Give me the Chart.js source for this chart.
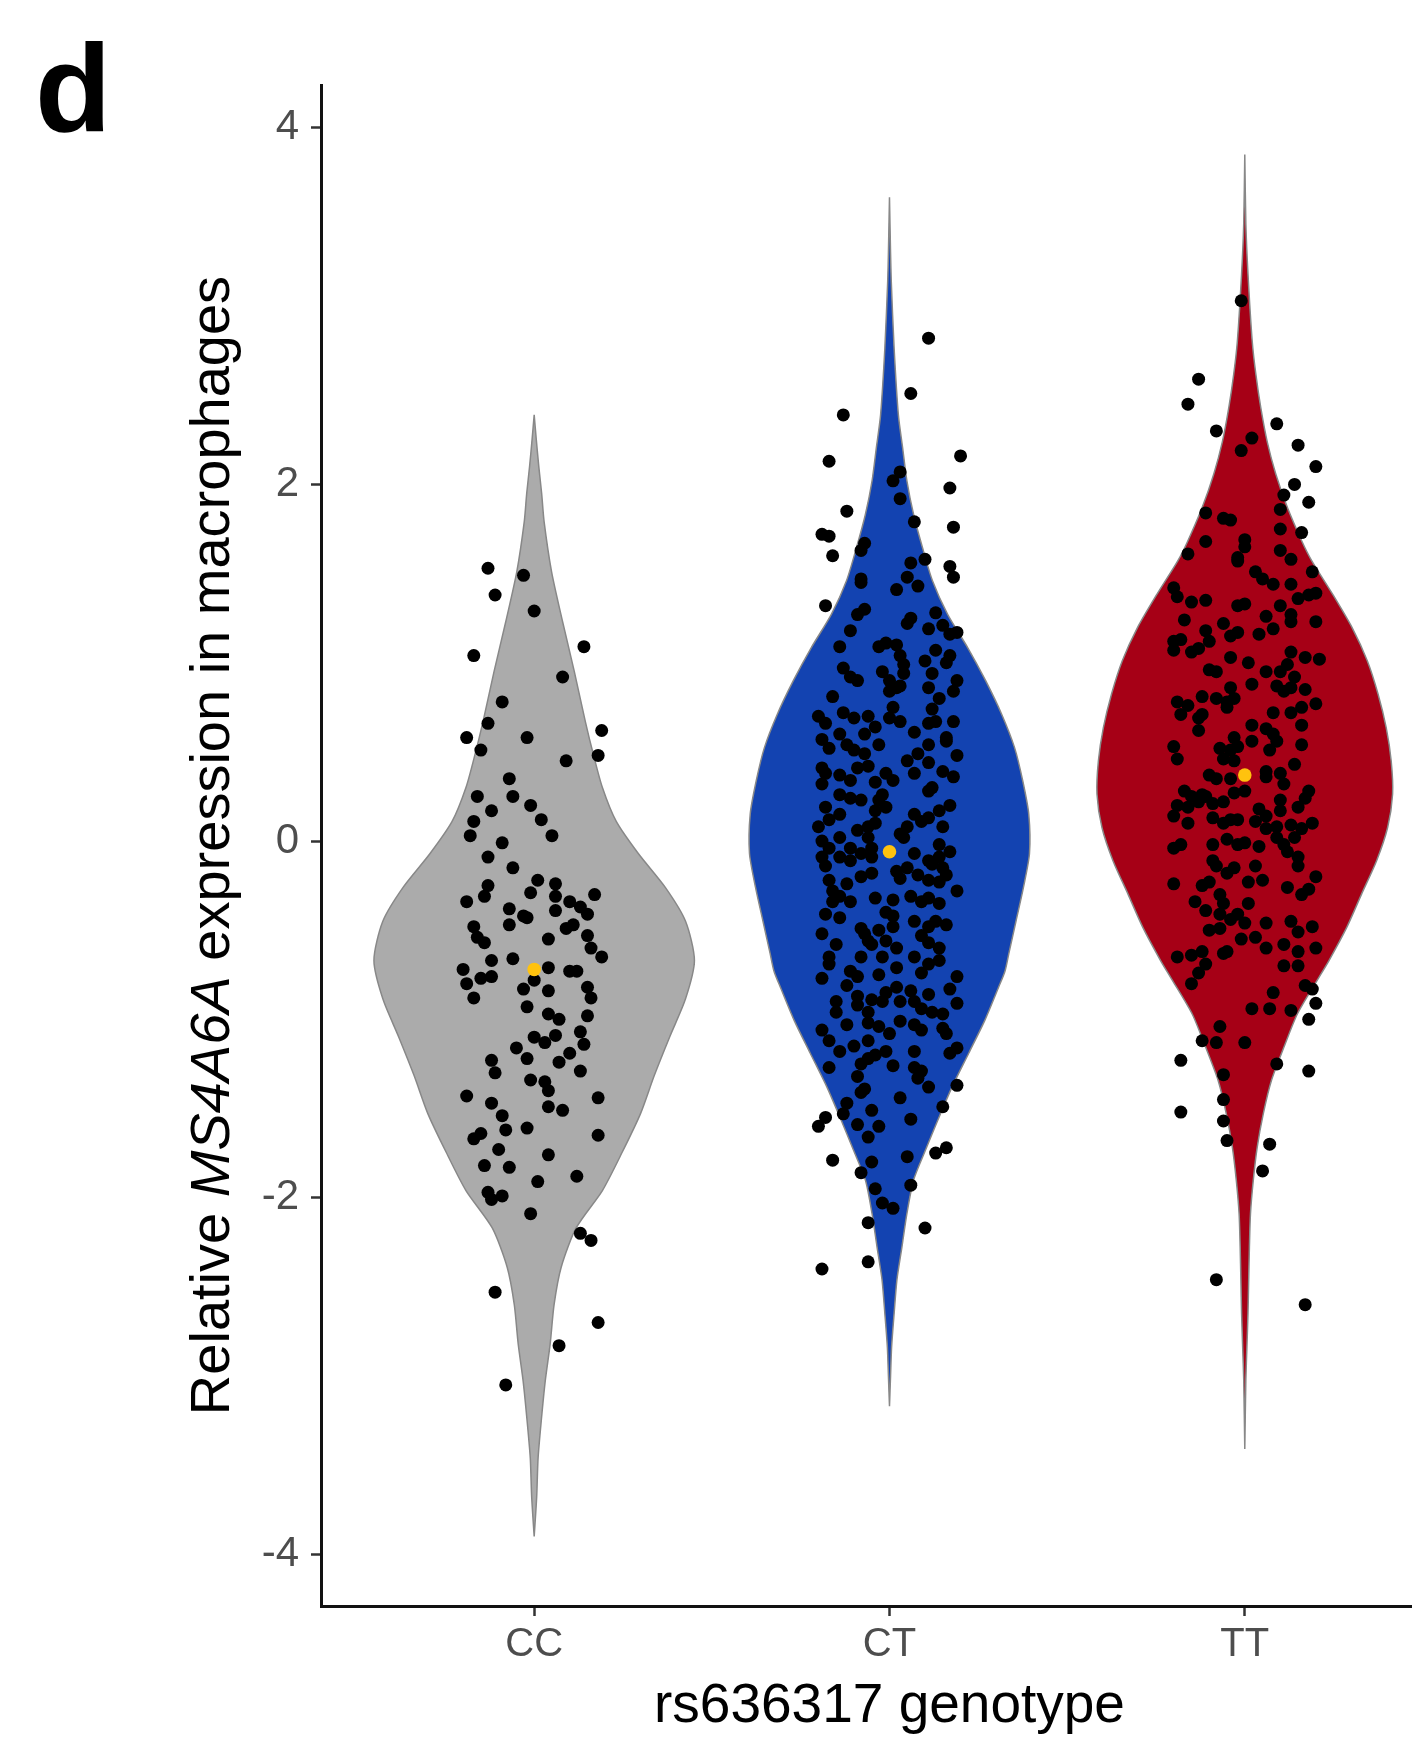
<!DOCTYPE html>
<html>
<head>
<meta charset="utf-8">
<script src="https://cdn.jsdelivr.net/npm/chart.js@4.4.0/dist/chart.umd.min.js"></script>
<style>
html, body { margin: 0; padding: 0; background: #fff; overflow: hidden; }
#wrap { width: 1412px; height: 1755px; overflow: hidden; }
</style>
</head>
<body>
<div id="wrap"><canvas id="myChart" width="1420" height="1755"></canvas></div>
<script>
const categories = ["CC", "CT", "TT"];
const yTicks = [-4, -2, 0, 2, 4];

// violin outlines: y value and half width (x units)
const ccViolinY = [2.39, 2.25, 2.1, 1.95, 1.79, 1.51, 1.23, 0.95, 0.67, 0.49, 0.30, 0.11, -0.07, -0.26, -0.45, -0.67, -0.885, -1.10, -1.315, -1.53, -1.744, -1.96, -2.17, -2.39, -2.60, -2.82, -3.03, -3.25, -3.46, -3.68, -3.90];
const ccViolinW = [0, 0.006, 0.013, 0.021, 0.028, 0.049, 0.080, 0.113, 0.144, 0.166, 0.192, 0.231, 0.293, 0.369, 0.426, 0.451, 0.426, 0.381, 0.338, 0.299, 0.248, 0.192, 0.118, 0.076, 0.056, 0.045, 0.031, 0.020, 0.011, 0.007, 0];
const ctViolinY = [3.61, 3.3, 3.14, 2.765, 2.39, 2.205, 2.02, 1.83, 1.645, 1.46, 1.27, 1.085, 0.898, 0.71, 0.524, 0.338, 0.15, -0.07, -0.26, -0.45, -0.63, -0.73, -0.82, -1.007, -1.19, -1.38, -1.57, -1.73, -1.90, -2.09, -2.277, -2.46, -2.65, -2.837, -3.0, -3.17];
const ctViolinW = [0, 0.003, 0.005, 0.013, 0.025, 0.037, 0.049, 0.068, 0.093, 0.121, 0.164, 0.220, 0.271, 0.316, 0.352, 0.375, 0.392, 0.394, 0.377, 0.356, 0.336, 0.325, 0.307, 0.268, 0.223, 0.176, 0.135, 0.102, 0.068, 0.049, 0.035, 0.021, 0.013, 0.006, 0.003, 0];
const ttViolinY = [3.85, 3.46, 3.18, 2.80, 2.62, 2.43, 2.24, 2.06, 1.87, 1.68, 1.57, 1.385, 1.197, 1.01, 0.825, 0.636, 0.45, 0.264, 0.076, -0.11, -0.296, -0.484, -0.67, -0.78, -0.97, -1.157, -1.343, -1.53, -1.716, -1.90, -2.09, -2.277, -2.46, -2.65, -2.837, -3.02, -3.41];
const ttViolinW = [0, 0.003, 0.009, 0.021, 0.031, 0.045, 0.063, 0.087, 0.120, 0.161, 0.189, 0.247, 0.302, 0.345, 0.375, 0.398, 0.412, 0.416, 0.402, 0.371, 0.329, 0.287, 0.237, 0.204, 0.148, 0.110, 0.075, 0.052, 0.035, 0.024, 0.016, 0.013, 0.011, 0.009, 0.006, 0.003, 0];

// individual samples: [expression, jitter]
const ccPoints = [[1.53,-0.13],[1.49,-0.03],[1.38,-0.11],[1.29,0.00],[1.09,0.14],[1.04,-0.17],[0.92,0.08],[0.78,-0.09],[0.66,-0.13],[0.58,-0.19],[0.58,-0.02],[0.62,0.19],[0.51,-0.15],[0.48,0.18],[0.45,0.09],[0.35,-0.07],[0.25,-0.16],[0.25,-0.06],[0.20,-0.01],[0.17,-0.12],[0.11,-0.17],[0.12,0.02],[0.03,-0.18],[0.03,0.05],[-0.01,-0.09],[-0.09,-0.13],[-0.15,-0.06],[-0.22,0.01],[-0.25,-0.13],[-0.24,0.06],[-0.31,-0.14],[-0.34,-0.19],[-0.29,-0.01],[-0.30,0.17],[-0.31,0.06],[-0.34,0.10],[-0.38,-0.07],[-0.37,0.13],[-0.39,0.06],[-0.41,0.15],[-0.42,-0.03],[-0.43,-0.02],[-0.47,-0.07],[-0.48,-0.17],[-0.47,0.11],[-0.49,0.09],[-0.54,-0.16],[-0.57,-0.14],[-0.55,0.04],[-0.53,0.15],[-0.60,0.16],[-0.65,0.19],[-0.66,-0.06],[-0.67,-0.12],
  [-0.72,-0.20],[-0.71,0.04],[-0.73,0.10],[-0.73,0.12],[-0.80,-0.19],[-0.77,-0.15],[-0.76,-0.12],[-0.83,-0.03],[-0.78,0.00],[-0.84,0.04],[-0.82,0.15],[-0.88,0.16],[-0.88,-0.17],[-0.93,-0.02],[-0.97,0.04],[-1.00,0.07],[-0.98,0.15],[-1.07,0.13],[-1.10,0.00],[-1.13,0.03],[-1.09,0.06],[-1.16,-0.05],[-1.14,0.14],[-1.19,0.10],[-1.23,-0.12],[-1.22,-0.02],[-1.24,0.07],[-1.30,-0.11],[-1.29,0.13],[-1.34,-0.01],[-1.35,0.03],[-1.40,0.04],[-1.43,-0.19],[-1.44,0.18],[-1.47,-0.12],[-1.49,0.04],[-1.51,0.08],[-1.54,-0.09],[-1.62,-0.08],[-1.61,-0.02],[-1.64,-0.15],[-1.67,-0.17],[-1.65,0.18],[-1.73,-0.10],[-1.76,0.04],[-1.82,-0.14],[-1.83,-0.07],[-1.88,0.12],[-1.91,0.01],[-1.97,-0.13],[-1.99,-0.09],[-2.01,-0.12],[-2.09,-0.01],[-2.20,0.13],[-2.24,0.16],[-2.53,-0.11],[-2.70,0.18],[-2.83,0.07],[-3.05,-0.08]];

const ctPoints = [[2.82,0.11],[2.51,0.06],[2.39,-0.13],[2.16,0.20],[2.13,-0.17],[2.07,0.03],[2.02,0.01],[1.98,0.17],[1.92,0.03],[1.85,-0.12],[1.79,0.07],[1.76,0.18],[1.72,-0.19],[1.71,-0.17],[1.67,-0.07],[1.63,-0.08],[1.60,-0.16],[1.58,0.10],[1.56,0.06],[1.54,0.17],[1.48,0.18],[1.47,-0.08],[1.48,0.05],
  [1.45,-0.08],[1.41,0.02],[1.43,0.08],[1.32,-0.18],[1.27,-0.09],[1.30,-0.07],[1.22,0.05],[1.25,0.06],[1.28,0.13],[1.19,0.11],[1.21,0.15],[1.18,-0.11],[1.16,0.17],[1.17,0.19],[1.09,-0.14],[1.09,-0.03],[1.11,-0.01],[1.10,0.02],[1.01,0.10],[1.07,0.13],[1.04,0.17],[1.00,0.16],[1.04,0.03],[0.99,0.04],[0.97,-0.13],[0.92,-0.11],[0.90,-0.09],[0.95,-0.02],[0.90,0.00],[0.94,0.04],[0.94,0.12],[0.86,0.11],[0.90,0.19],[0.84,0.18],[0.86,0.02],[0.87,0.03],[0.81,-0.16],[0.84,0.00],[0.80,0.14],[0.75,0.01],[0.69,0.00],[0.74,0.12],[0.70,-0.20],[0.66,-0.18],[0.72,-0.13],[0.69,-0.10],[0.70,-0.06],[0.60,-0.07],[0.64,-0.04],[0.67,0.03],[0.61,0.07],[0.66,0.11],[0.67,0.13],[0.67,0.18],[0.57,-0.19],[0.60,-0.14],[0.52,-0.17],[0.54,-0.12],[0.51,-0.10],[0.54,-0.03],[0.49,-0.07],[0.54,0.11],[0.56,0.16],[0.45,0.05],[0.49,0.08],[0.48,0.19],[0.58,0.16],[0.41,-0.19],[0.38,-0.18],[0.32,-0.19],[0.37,-0.14],[0.34,-0.11],[0.41,-0.09],[0.42,-0.06],[0.33,-0.04],[0.38,-0.01],[0.34,0.01],[0.38,0.07],[0.44,0.11],[0.39,0.15],[0.36,0.18],[0.26,-0.14],[0.24,-0.11],[0.23,-0.08],[0.26,-0.02],[0.23,-0.03],[0.28,0.11],[0.30,0.12],[0.19,-0.18],[0.12,-0.17],[0.15,-0.14],[0.17,-0.04],[0.19,-0.01],[0.15,0.07],[0.11,0.09],[0.17,0.14],[0.20,0.17],[0.08,-0.20],[0.06,-0.09],[0.08,-0.06],[0.10,-0.04],[0.08,0.05],[0.04,0.03],[0.13,0.11],[0.08,0.15],[0.00,-0.19],[-0.04,-0.17],[0.02,-0.14],[-0.04,-0.11],[0.02,-0.06],[-0.04,-0.05],[0.02,0.04],[-0.07,0.07],[-0.02,0.14],[-0.06,0.17],[-0.09,-0.19],[-0.14,-0.18],[-0.09,-0.14],[-0.11,-0.11],[-0.07,-0.08],[-0.09,-0.05],[-0.11,0.11],[-0.13,0.12],[-0.09,0.14],[-0.15,0.15],[-0.22,-0.17],[-0.28,-0.16],[-0.24,-0.12],[-0.20,-0.08],[-0.18,-0.05],[-0.17,0.02],[-0.15,0.05],[-0.21,0.03],[-0.19,0.08],[-0.22,0.11],[-0.23,0.14],[-0.19,0.16],[-0.28,0.19],[-0.34,-0.16],[-0.31,-0.14],[-0.34,-0.11],[-0.32,-0.04],[-0.33,0.01],[-0.31,0.06],[-0.34,0.09],[-0.32,0.11],[-0.35,0.14],[-0.41,-0.18],[-0.43,-0.14],[-0.40,-0.01],[-0.42,0.01],[-0.45,0.07],[-0.45,0.13],[-0.47,0.16],[-0.52,-0.19],[-0.49,-0.08],[-0.52,-0.07],[-0.50,-0.03],[-0.48,0.01],[-0.53,0.09],[-0.48,0.11],[-0.58,-0.15],[-0.56,-0.06],[-0.58,-0.05],[-0.56,-0.01],[-0.60,0.02],[-0.57,0.11],[-0.60,0.14],[-0.65,-0.17],[-0.69,-0.17],[-0.65,-0.08],[-0.65,-0.02],[-0.65,0.07],[-0.69,0.11],[-0.67,0.14],[-0.73,-0.11],[-0.76,-0.09],[-0.75,-0.03],[-0.71,0.02],[-0.74,0.09],[-0.76,0.19],[-0.77,-0.19],
  [-0.81,-0.12],[-0.87,-0.09],[-0.89,-0.05],[-0.85,-0.01],[-0.82,0.02],[-0.84,0.06],[-0.86,0.11],[-0.83,0.17],[-0.91,0.19],[-0.90,-0.15],[-0.96,-0.15],[-0.92,-0.09],[-0.96,-0.06],[-0.90,-0.02],[-0.90,0.03],[-0.90,0.07],[-0.94,0.09],[-0.96,0.12],[-0.97,0.15],[-1.03,-0.12],[-1.02,-0.06],[-1.04,-0.03],[-1.01,0.03],[-1.03,0.07],[-1.06,0.09],[-1.05,0.15],[-1.06,-0.19],[-1.12,-0.17],[-1.15,-0.10],[-1.18,-0.14],[-1.12,-0.06],[-1.08,0.00],[-1.08,0.16],[-1.16,0.19],[-1.19,0.17],[-1.18,0.07],[-1.27,-0.17],[-1.25,-0.08],[-1.22,-0.06],[-1.20,-0.04],[-1.18,-0.01],[-1.26,0.01],[-1.32,-0.09],[-1.27,0.07],[-1.29,0.09],[-1.33,0.08],[-1.38,0.11],[-1.37,0.19],[-1.39,-0.07],[-1.41,-0.08],[-1.47,-0.12],[-1.44,0.03],[-1.49,0.15],[-1.55,-0.18],[-1.60,-0.20],[-1.53,-0.13],[-1.51,-0.05],[-1.59,-0.09],[-1.60,-0.03],[-1.56,0.06],[-1.66,-0.06],[-1.79,-0.16],[-1.80,-0.05],[-1.86,-0.08],[-1.77,0.05],[-1.75,0.13],[-1.72,0.16],[-1.95,-0.04],[-1.93,0.06],[-2.03,-0.02],[-2.06,0.01],[-2.14,-0.06],[-2.17,0.10],[-2.36,-0.06],[-2.40,-0.19]];

const ttPoints = [[3.03,-0.01],[2.59,-0.13],[2.45,-0.16],[2.30,-0.08],[2.34,0.09],[2.26,0.02],[2.19,-0.01],[2.22,0.15],[2.10,0.20],[2.00,0.14],[1.94,0.11],[1.90,0.18],[1.86,0.10],[1.84,-0.11],[1.81,-0.06],[1.80,-0.04],[1.75,0.10],[1.73,0.16],[1.68,-0.11],[1.69,0.00],[1.65,0.00],[1.61,-0.16],[1.59,-0.02],[1.63,0.10],[1.58,0.13],
  [1.57,-0.02],[1.51,0.19],[1.51,0.03],[1.47,0.05],[1.44,0.08],[1.44,0.13],[1.42,-0.20],[1.37,-0.19],[1.34,-0.15],[1.35,-0.11],[1.36,0.15],[1.38,0.18],[1.39,0.20],[1.32,-0.02],[1.33,0.00],[1.32,0.10],[1.27,0.13],[1.26,0.06],[1.24,-0.17],[1.22,-0.06],[1.19,0.08],[1.23,0.13],[1.23,0.20],[1.16,0.04],[1.18,-0.11],[1.12,-0.20],[1.13,-0.18],[1.08,-0.13],[1.12,-0.10],[1.06,-0.15],[1.07,-0.20],[1.15,-0.04],[1.17,-0.02],[1.03,-0.04],[1.00,0.01],[1.06,0.13],[1.03,0.17],[1.02,0.21],[0.99,0.12],[0.96,-0.10],[0.95,-0.08],[0.95,0.06],[0.95,0.10],[0.92,0.14],[0.88,0.02],[0.87,0.09],[0.84,0.11],[0.86,0.13],[0.85,0.17],[0.86,-0.04],[0.78,-0.19],[0.76,-0.16],[0.81,-0.12],[0.80,-0.08],[0.78,-0.05],[0.80,-0.03],[0.75,-0.05],[0.71,-0.18],[0.69,-0.13],[0.71,-0.12],[0.72,0.08],[0.72,0.13],[0.75,0.16],[0.77,0.20],[0.65,0.02],[0.63,0.06],[0.65,0.16],[0.62,-0.13],[0.58,-0.03],[0.56,0.02],[0.60,0.08],[0.56,0.09],[0.52,-0.07],[0.51,-0.04],[0.53,-0.02],[0.51,0.07],[0.54,0.16],[0.53,-0.20],[0.46,-0.19],[0.46,-0.06],[0.45,-0.03],[0.43,0.14],[0.37,-0.10],[0.35,-0.08],[0.35,-0.04],[0.39,0.06],[0.36,0.06],[0.38,0.10],[0.32,0.11],[0.28,-0.17],[0.25,-0.15],[0.26,-0.12],[0.25,-0.11],[0.27,-0.03],[0.28,0.00],[0.28,0.18],[0.24,0.17],[0.20,-0.19],[0.14,-0.20],[0.19,-0.16],[0.22,-0.13],[0.21,-0.09],[0.22,-0.06],[0.18,0.04],[0.14,0.06],[0.23,0.10],[0.17,0.10],[0.19,0.15],[0.13,-0.09],[0.10,-0.06],[0.12,-0.04],[0.12,-0.02],[0.11,0.03],[0.07,0.06],[0.08,0.09],[0.09,0.13],[0.07,0.16],[0.10,0.19],[0.10,-0.16],[-0.04,-0.20],[-0.02,-0.18],[-0.02,-0.09],[0.01,-0.05],[-0.02,-0.02],[-0.01,0.00],[-0.03,0.04],[0.02,0.09],[-0.02,0.11],[-0.06,0.12],[0.02,0.14],[-0.09,0.15],[-0.11,-0.09],[-0.14,-0.08],[-0.18,-0.05],[-0.15,-0.03],[-0.14,0.03],[-0.14,0.15],[-0.24,-0.20],[-0.25,-0.12],[-0.23,-0.10],[-0.30,-0.07],[-0.23,0.01],[-0.22,0.05],[-0.26,0.12],[-0.30,0.16],[-0.27,0.18],[-0.20,0.20],[-0.34,-0.14],[-0.39,-0.11],[-0.35,-0.06],[-0.35,0.01],[-0.41,-0.07],[-0.44,-0.04],[-0.41,-0.02],[-0.46,0.00],[-0.46,0.06],[-0.45,0.13],[-0.51,0.15],[-0.48,0.19],[-0.50,-0.10],[-0.49,-0.07],[-0.55,-0.01],[-0.54,0.03],[-0.60,0.06],[-0.58,0.11],[-0.62,0.15],[-0.60,0.20],[-0.65,-0.19],[-0.64,-0.15],[-0.62,-0.12],[-0.69,-0.11],[-0.63,-0.06],[-0.62,-0.05],[-0.74,-0.13],[-0.70,0.11],[-0.70,0.15],
  [-0.80,-0.15],[-0.85,0.08],[-0.81,0.17],[-0.83,0.19],[-0.91,0.20],[-0.94,0.02],[-0.94,0.07],[-0.95,0.13],[-1.00,0.18],[-1.04,-0.07],[-1.12,-0.12],[-1.13,-0.08],[-1.13,0.00],[-1.23,-0.18],[-1.25,0.09],[-1.29,0.18],[-1.31,-0.06],[-1.45,-0.06],[-1.52,-0.18],[-1.57,-0.06],[-1.68,-0.05],[-1.70,0.07],[-1.85,0.05],[-2.46,-0.08],[-2.60,0.17]];

// group centres (yellow dots)
const groupMid = [-0.72, -0.06, 0.37];

const family = "'Liberation Sans', Arial, Helvetica, sans-serif";

function violin(center, ys, ws) {
    const right = ys.map((y, i) => ({ x: center + ws[i], y: y }));
    const left = ys.map((y, i) => ({ x: center - ws[i], y: y })).reverse();
    return right.concat(left);
}

function points(center, list) {
    return list.map(p => ({ x: center + p[1], y: p[0] }));
}

function violinSet(data, color) {
    return {
        data: data,
        showLine: true,
        fill: 'shape',
        backgroundColor: color,
        borderColor: "#888888",
        borderWidth: 1.5,
        pointRadius: 0,
        tension: 0.25,
        order: 3
    };
}

function dotSet(data, color, r, order) {
    return {
        data: data,
        showLine: false,
        backgroundColor: color,
        borderWidth: 0,
        pointRadius: r,
        order: order
    };
}

const textPlugin = {
    id: "texts",
    afterDraw(chart) {
        const c = chart.ctx;
        const area = chart.chartArea;
        c.save();
        c.fillStyle = "#000";
        c.textBaseline = "alphabetic";

        c.font = "bold 125px " + family;
        c.textAlign = "left";
        c.fillText("d", 35, 131);

        c.font = "55px " + family;
        c.textAlign = "center";
        c.fillText("rs636317 genotype", chart.scales.x.getPixelForValue(2), 1722);

        // y title, gene name in italics
        const parts = [["Relative ", ""], ["MS4A6A", "italic "], [" expression in macrophages", ""]];
        let total = 0;
        parts.forEach(p => { c.font = p[1] + "56px " + family; total += c.measureText(p[0]).width; });
        c.translate(229, (area.top + area.bottom) / 2);
        c.rotate(-Math.PI / 2);
        c.textAlign = "left";
        let pos = -total / 2;
        parts.forEach(p => {
            c.font = p[1] + "56px " + family;
            c.fillText(p[0], pos, 0);
            pos += c.measureText(p[0]).width;
        });
        c.restore();
    }
};

const ctx = document.getElementById("myChart");

new Chart(ctx, {
    type: "scatter",
    data: {
        datasets: [
            dotSet([0, 1, 2].map(i => ({ x: i + 1, y: groupMid[i] })), "#ffc20e", 6.8, 0),
            dotSet(points(1, ccPoints), "#000", 6.5, 1),
            dotSet(points(2, ctPoints), "#000", 6.5, 1),
            dotSet(points(3, ttPoints), "#000", 6.5, 1),
            violinSet(violin(1, ccViolinY, ccViolinW), "#ababab"),
            violinSet(violin(2, ctViolinY, ctViolinW), "#1343b1"),
            violinSet(violin(3, ttViolinY, ttViolinW), "#a60016")
        ]
    },
    options: {
        responsive: false,
        animation: false,
        devicePixelRatio: 1,
        events: [],
        layout: { padding: { top: 85, left: 0, right: 0, bottom: 0 } },
        plugins: {
            legend: { display: false },
            tooltip: { enabled: false }
        },
        scales: {
            x: {
                type: "linear",
                min: 0.4,
                max: 3.474,
                afterBuildTicks: s => { s.ticks = [1, 2, 3].map(v => ({ value: v })); },
                afterFit: s => { s.height = 149; },
                grid: { drawOnChartArea: false, tickLength: 10, tickColor: "#333", tickWidth: 2.5 },
                border: { color: "#111", width: 3 },
                ticks: {
                    callback: v => categories[v - 1],
                    font: { family: family, size: 40 },
                    color: "#4d4d4d",
                    padding: 5,
                    maxRotation: 0,
                    autoSkip: false
                }
            },
            y: {
                min: -4.29,
                max: 4.24,
                afterBuildTicks: s => { s.ticks = yTicks.map(v => ({ value: v })); },
                afterFit: s => { s.width = 321; },
                grid: { drawOnChartArea: false, tickLength: 10, tickColor: "#333", tickWidth: 2.5 },
                border: { color: "#111", width: 3 },
                ticks: {
                    callback: v => String(v),
                    font: { family: family, size: 42 },
                    color: "#4d4d4d",
                    padding: 12
                }
            }
        }
    },
    plugins: [textPlugin]
});
</script>
</body>
</html>
